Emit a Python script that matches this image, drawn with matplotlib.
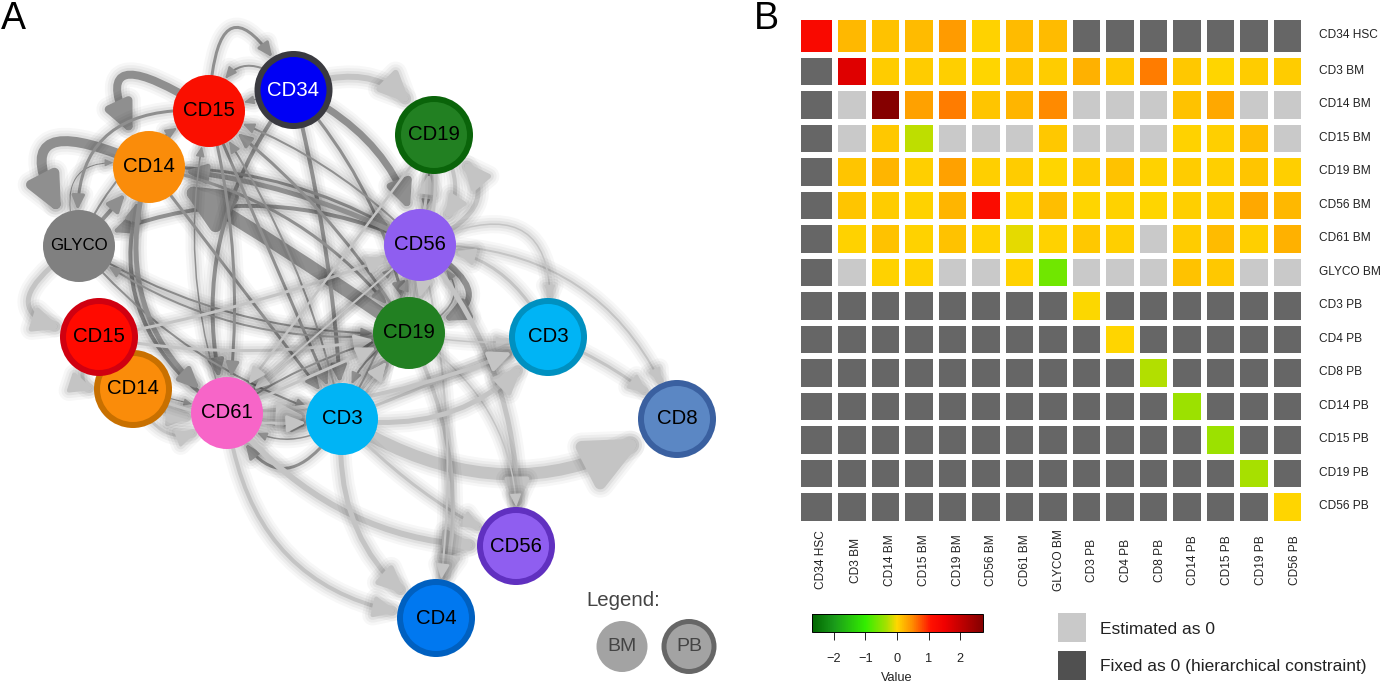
import numpy as np
import matplotlib
matplotlib.use('Agg')
import matplotlib.pyplot as plt
import matplotlib.patheffects as pe
from matplotlib.cm import ScalarMappable
from matplotlib.colors import LinearSegmentedColormap, ListedColormap, Normalize
from matplotlib.patches import Circle, FancyArrowPatch, Rectangle

plt.rcParams['font.family'] = ['Liberation Sans', 'DejaVu Sans']

# heatmap values
cell_labels = ['CD34 HSC', 'CD3 BM', 'CD14 BM', 'CD15 BM', 'CD19 BM', 'CD56 BM', 'CD61 BM', 'GLYCO BM',
               'CD3 PB', 'CD4 PB', 'CD8 PB', 'CD14 PB', 'CD15 PB', 'CD19 PB', 'CD56 PB']
E = -100  # estimated as 0
F = -200  # fixed as 0
effects = [
    [1.25, .20, .13, .17, .38, .03, .18, .18, F, F, F, F, F, F, F],
    [F, 1.70, .07, .08, .06, .02, .12, .07, .25, .10, .55, .09, .02, .07, .08],
    [F, E, 2.70, .35, .55, .12, .22, .50, E, E, E, .14, .30, E, E],
    [F, E, .09, -.25, E, E, E, .10, E, E, E, .04, .06, .15, E],
    [F, .12, .22, .06, .35, .05, .07, .02, .07, .13, .03, .08, .05, .12, .05],
    [F, .12, .08, .03, .22, 1.20, .03, .15, .02, .04, .02, .06, .08, .30, .20],
    [F, .03, .13, .03, .13, .03, -.10, .03, .10, .05, E, .07, .18, .05, .25],
    [F, E, .03, .03, E, E, .03, -.65, E, E, E, .13, .10, E, E],
    [F, F, F, F, F, F, F, F, -.02, F, F, F, F, F, F],
    [F, F, F, F, F, F, F, F, F, .01, F, F, F, F, F],
    [F, F, F, F, F, F, F, F, F, F, -.28, F, F, F, F],
    [F, F, F, F, F, F, F, F, F, F, F, -.38, F, F, F],
    [F, F, F, F, F, F, F, F, F, F, F, F, -.38, F, F],
    [F, F, F, F, F, F, F, F, F, F, F, F, F, -.33, F],
    [F, F, F, F, F, F, F, F, F, F, F, F, F, F, .01],
]
cbar_ticks = [-2, -1, 0, 1, 2]

# network nodes
node_ids = ['B15', 'H34', 'B14', 'GLY', 'P19', 'B56', 'B19', 'P3', 'P8', 'P56', 'P4', 'P14', 'P15', 'B61', 'B3']
node_text = ['CD15', 'CD34', 'CD14', 'GLYCO', 'CD19', 'CD56', 'CD19', 'CD3', 'CD8', 'CD56', 'CD4', 'CD14', 'CD15', 'CD61', 'CD3']

# edges from BM sources (dark) and PB-ish ones (light)
dark_from = ['B14', 'B15', 'B15', 'H34', 'H34', 'B56', 'B19', 'H34', 'H34', 'H34', 'H34', 'B14', 'B56', 'B14',
             'GLY', 'B15', 'GLY', 'GLY', 'B61', 'B61', 'B19', 'GLY', 'GLY', 'B14', 'B15', 'B14', 'B61', 'B61',
             'B3', 'B19', 'B3', 'B3', 'B3', 'B61', 'B56', 'B19', 'P14', 'P19', 'B3', 'B19', 'B15', 'B56']
dark_to = ['GLY', 'B14', 'H34', 'B15', 'B15', 'GLY', 'B14', 'B56', 'B3', 'B61', 'B19', 'B56', 'B14', 'B19',
           'B14', 'GLY', 'B15', 'B14', 'B14', 'B15', 'B15', 'B19', 'B3', 'B3', 'B3', 'B61', 'B19', 'B56',
           'B19', 'B3', 'B56', 'B61', 'B61', 'B3', 'B19', 'B56', 'B61', 'B56', 'B15', 'GLY', 'B61', 'B15']
dark_weight = [10, 8, 3, 2, 1.5, 4, 13, 7, 4, 4, 3, 3, 5, 3,
               1, 3, 2, 4, 4, 1.5, 3, 2, 2, 3, 3, 5, 2, 1.5,
               3, 2, 2, 3, 1.5, 3, 6, 1.5, 1, 1.5, 2, 2, 3, 2]
dark_bend = [1.65, 2.0, -1.7, .8, 0, .23, .02, -.25, -.05, .25, -.15, -.15, .1, -.2,
             -.9, .6, -.2, 0, -.4, -.15, .1, .15, .15, 0, 0, .35, -.1, 0,
             0, .3, .05, -.9, -.4, .15, -1.2, .9, 0, 0, .1, -.2, -.1, .12]

light_from = ['B3', 'B61', 'B3', 'B61', 'B3', 'B19', 'B56', 'B56', 'B19', 'H34', 'B56', 'P19', 'B19', 'B56',
              'B56', 'P3', 'B3', 'B19', 'B3', 'P3', 'B61', 'P15', 'GLY', 'P15', 'P14', 'P14', 'P15', 'B3', 'B61',
              'B61', 'B56', 'P19', 'P14', 'P19']
light_to = ['P8', 'P56', 'P4', 'P4', 'P56', 'P4', 'P4', 'P56', 'P56', 'P19', 'P19', 'B56', 'P19', 'P8',
            'P3', 'P8', 'P3', 'P3', 'P3', 'B56', 'P3', 'B56', 'P15', 'P14', 'B61', 'B61', 'B19', 'B19', 'B19',
            'B3', 'B61', 'B61', 'B3', 'B19']
light_weight = [12, 6, 5, 4, 3, 4, 2, 5, 1.5, 6, 5, 4, 3, 2,
                1.5, 3, 3, 1.5, 5, 3, 4, 3, 5, 4, 4, 3, 3, 3, 3,
                5, 2, 2.5, 3, 3]
light_bend = [.32, .25, .3, .4, .1, -.2, -.1, -.2, -.3, -.45, .9, -.5, 0, -.35,
              -.9, -.1, 0, .1, .3, .3, .1, .05, 1.3, 1.2, .3, .7, .1, 0, 0,
              0, 0, 0, .15, -.1]

# layout in pixels of the image
node_x = [209, 293.5, 149, 79, 434, 420, 409, 548, 677, 516, 436, 133, 99, 227, 342]
node_y = [111, 90, 167, 246, 135, 245, 333, 337, 419, 546, 618, 389, 337, 413, 419]
node_fill = ['#fa0f00', '#0000f5', '#fa8c0a', '#808080', '#228022', '#8f5ef0', '#228022', '#00b4f5',
             '#5b87c4', '#8f5ef0', '#0078f0', '#fa8c0a', '#ff0a00', '#f765c8', '#00b4f5']
node_ring = [None, '#3a3a40', None, None, '#0a640a', None, None, '#0090c0',
             '#3a60a0', '#6030c0', '#0060c0', '#c87000', '#d00010', None, None]
pos = dict(zip(node_ids, zip(node_x, node_y)))
radius = {n: (39 if r else 36) for n, r in zip(node_ids, node_ring)}

W, H = 1382, 683
fig = plt.figure(figsize=(W / 100, H / 100), dpi=100)
ax = fig.add_axes([0, 0, 1, 1])
ax.set_xlim(0, W)
ax.set_ylim(H, 0)
ax.axis('off')


def draw_edge(a, b, w, bend, color, head):
    w_pt = w * .72
    head_l = (6 + 3.2 * w) * .72 * head
    head_w = (2.5 + 1.5 * w) * .72 * head
    arrow = FancyArrowPatch(pos[a], pos[b], connectionstyle='arc3,rad=%g' % bend,
                            arrowstyle='-|>,head_length=%g,head_width=%g' % (head_l, head_w),
                            mutation_scale=1, lw=w_pt, color=color,
                            shrinkA=radius[a] * .72, shrinkB=radius[b] * .72, zorder=2)
    arrow.set_path_effects([
        pe.Stroke(linewidth=w_pt + 12, foreground='#000000', alpha=.03),
        pe.Stroke(linewidth=w_pt + 8, foreground='#000000', alpha=.04),
        pe.Stroke(linewidth=w_pt + 4, foreground='#000000', alpha=.05),
        pe.Normal(),
    ])
    ax.add_patch(arrow)


for a, b, w, bend in zip(dark_from, dark_to, dark_weight, dark_bend):
    draw_edge(a, b, w, bend, '#8f8f8f', .75)
for a, b, w, bend in zip(light_from, light_to, light_weight, light_bend):
    draw_edge(a, b, w, bend, '#c4c4c4', 1)

for i, n in enumerate(node_ids):
    x, y = pos[n]
    ring = node_ring[i]
    ax.add_patch(Circle((x, y), radius[n], fc=ring if ring else node_fill[i], ec='none', zorder=5 + i * .01))
    if ring:
        ax.add_patch(Circle((x, y), radius[n] - 6, fc=node_fill[i], ec='none', zorder=5 + i * .01))
    size = 12.2 if node_text[i] == 'GLYCO' else 14.7
    ax.text(x, y, node_text[i], ha='center', va='center', fontsize=size,
            color='white' if n == 'H34' else 'black', zorder=5.005 + i * .01)

# little legend of panel A
ax.text(586, 601, 'Legend:', fontsize=14.7, color='#444444', va='center')
ax.add_patch(Circle((622, 646.5), 25.5, fc='#a3a3a3', ec='none'))
ax.text(622, 646.5, 'BM', fontsize=14, color='#444444', ha='center', va='center')
ax.add_patch(Circle((689, 646.5), 27.5, fc='#666666', ec='none'))
ax.add_patch(Circle((689, 646.5), 22.5, fc='#a3a3a3', ec='none'))
ax.text(689, 646.5, 'PB', fontsize=14, color='#444444', ha='center', va='center')

ax.text(1, 29, 'A', fontsize=27, ha='left', va='baseline', color='black')
ax.text(754, 29, 'B', fontsize=27, ha='left', va='baseline', color='black')

# heatmap
vals = np.array(effects, dtype=float)
x_edges = np.r_[797.75, 835.5 + 33.5 * np.arange(15)]
y_edges = np.r_[16.75, 54.5 + 33.5 * np.arange(15)]
colors = [(0, '#006400'), (.13, '#1a9a1a'), (.315, '#33ee00'), (.44, '#a8e000'), (.5, '#ffd700'),
          (.59, '#ff8c00'), (.70, '#ff1000'), (.78, '#f00000'), (1, '#850000')]
cmap = LinearSegmentedColormap.from_list('value', colors, N=256)
norm = Normalize(-2.7, 2.7)
status = np.where(vals == F, 1, 0)
ax.pcolormesh(x_edges, y_edges, status, cmap=ListedColormap(['#c9c9c9', '#666666']), vmin=0, vmax=1,
              edgecolors='white', linewidth=3.2, zorder=1)
ax.pcolormesh(x_edges, y_edges, np.ma.masked_less(vals, -50), cmap=cmap, norm=norm,
              edgecolors='white', linewidth=3.2, zorder=1.1)

for i, label in enumerate(cell_labels):
    yc = (y_edges[i] + y_edges[i + 1]) / 2
    xc = (x_edges[i] + x_edges[i + 1]) / 2
    ax.text(1319, yc - .5, label, fontsize=8.6, color='#222222', ha='left', va='center')
    ax.text(xc + 4 + i * .2, 560, label, fontsize=8.6, color='#222222', rotation=90, ha='center', va='center')

# colorbar
cax = fig.add_axes([811.5 / W, 1 - 632 / H, 171 / W, 18 / H])
cb = fig.colorbar(ScalarMappable(norm=norm, cmap=cmap), cax=cax, orientation='horizontal', ticks=cbar_ticks)
cb.outline.set_linewidth(.7)
cb.ax.tick_params(length=6, width=.6, labelsize=9.2, pad=9, labelcolor='#222222')
cb.set_label('Value', fontsize=9.2, color='#222222', labelpad=5)

# legend of panel B
ax.add_patch(Rectangle((1058, 613), 28.5, 29, fc='#c9c9c9', ec='none'))
ax.add_patch(Rectangle((1058, 651), 28.5, 29, fc='#505050', ec='none'))
ax.text(1100, 630, 'Estimated as 0', fontsize=12.5, color='#222222', va='center')
ax.text(1100, 666, 'Fixed as 0 (hierarchical constraint)', fontsize=12.5, color='#222222', va='center')

plt.savefig('out.png', dpi=100)
plt.close()
